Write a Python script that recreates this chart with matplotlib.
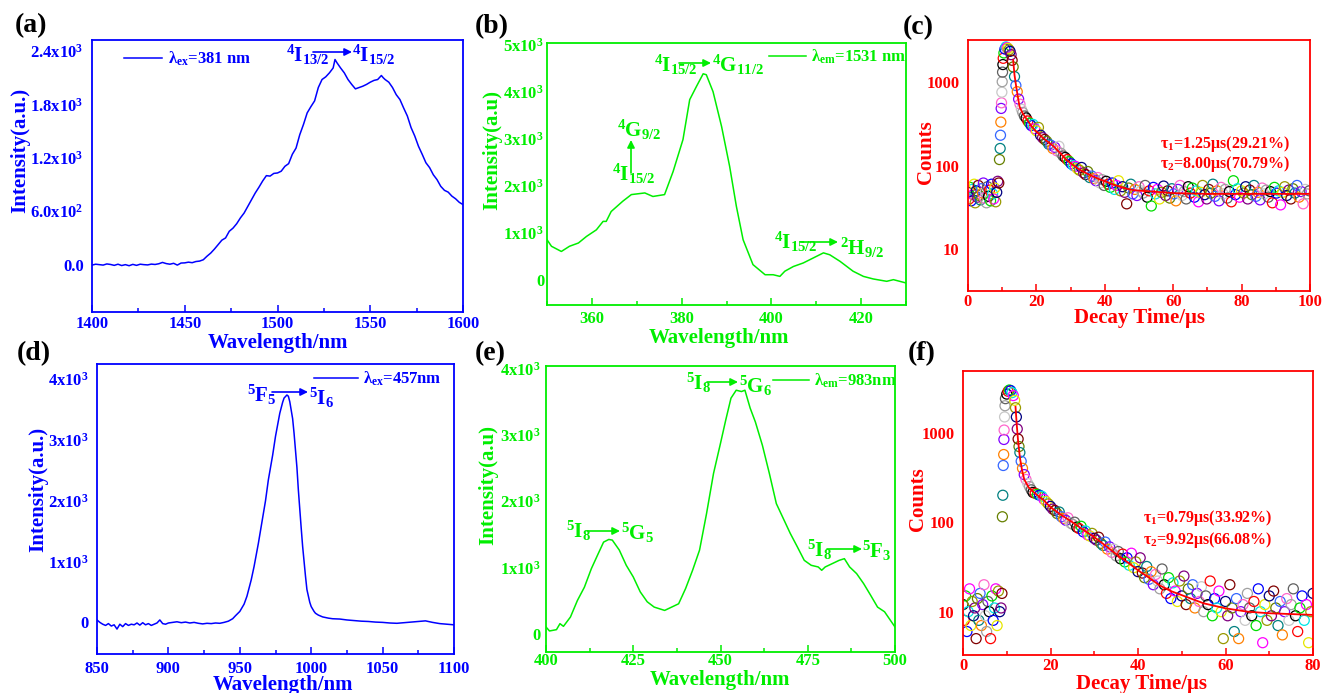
import matplotlib
matplotlib.use("Agg")
import matplotlib.pyplot as plt
from matplotlib.ticker import MultipleLocator, NullLocator
from matplotlib.patches import FancyArrowPatch

# ---------------- data ----------------
# (a) emission, lambda_ex = 381 nm
a_wl = [1400, 1402, 1404, 1406, 1408, 1410, 1412, 1414, 1416, 1418, 1420, 1422, 1424, 1426, 1428, 1430,
        1432, 1434, 1436, 1438, 1440, 1442, 1444, 1446, 1448, 1450, 1452, 1454, 1456, 1458, 1460, 1462,
        1464, 1466, 1468, 1470, 1472, 1474, 1476, 1478, 1480, 1482, 1484, 1486, 1488, 1490, 1492, 1494,
        1496, 1498, 1500, 1502, 1504, 1506, 1508, 1510, 1512, 1514, 1516, 1518, 1520, 1522, 1524, 1526,
        1528, 1530, 1531, 1532, 1534, 1536, 1538, 1540, 1542, 1544, 1546, 1548, 1550, 1552, 1554, 1556,
        1557, 1558, 1560, 1562, 1564, 1566, 1568, 1570, 1572, 1574, 1576, 1578, 1580, 1582, 1584, 1586,
        1588, 1590, 1592, 1594, 1596, 1598, 1600]
a_int = [-5, 5, 0, -5, 8, 2, -8, 5, -10, 0, -12, 3, -8, 5, 0, -3,
         6, 2, 10, 25, 12, 5, 15, -5, 18, 20, 28, 22, 35, 40, 55, 95,
         130, 175, 225, 275, 300, 375, 410, 460, 525, 580, 655, 730, 805, 870, 940, 1000,
         995, 1025, 1030, 1050, 1105, 1135, 1240, 1310, 1460, 1575, 1705, 1775, 1840, 1990, 2080, 2110,
         2155, 2210, 2305, 2270, 2210, 2155, 2080, 2025, 1975, 1990, 2005, 2025, 2050, 2070, 2080, 2125,
         2100, 2080, 2050, 1990, 1910, 1855, 1760, 1670, 1540, 1445, 1330, 1240, 1145, 1090, 1010, 955,
         880, 835, 815, 770, 740, 700, 675]

# (b) excitation, lambda_em = 1531 nm
b_wl = [350, 351, 353.2, 355, 357, 358.8, 361, 362.5, 363.2, 364.3, 366.9, 368.8, 371.8, 373.6, 376.2,
        378.1, 380.3, 381.8, 383.3, 384.8, 385.5, 387, 388.9, 390.7, 392.2, 393.7, 395.9, 398.6, 400.4,
        401.9, 403, 404.9, 407.1, 409.3, 411.6, 413, 415.3, 418.2, 420.5, 422.7, 425.7, 427.2, 430]
b_int = [850, 710, 600, 710, 780, 920, 1060, 1240, 1240, 1450, 1670, 1810, 1845, 1770, 1810,
         2300, 2980, 3830, 4110, 4380, 4360, 4000, 3260, 2410, 1560, 850, 320, 105, 105,
         70, 180, 280, 355, 460, 570, 530, 390, 180, 70, 15, -35, 0, -70]

# (c) decay curve, counts vs time (us)
c_time = [0.0, 0.3, 0.6, 0.9, 1.2, 1.5, 1.8, 2.1, 2.4, 2.7, 3.0, 3.3, 3.6, 3.9, 4.2, 4.5, 4.8, 5.1, 5.4, 5.7,
          6.0, 6.3, 6.6, 6.9, 7.2, 7.5, 7.8, 8.1, 8.4, 8.7,
          9.0, 9.2, 9.4, 9.5, 9.6, 9.7, 9.8, 9.9, 10.0, 10.1, 10.2, 10.3,
          10.5, 10.8, 11.1, 11.4, 11.7, 12.0, 12.3, 12.6, 12.9,
          13.2, 13.6, 14.0, 14.4, 14.8, 15.2, 15.6, 16.0, 16.5, 17.0, 17.5, 18.0, 18.5, 19.0, 19.5, 20.0,
          20.6, 21.2, 21.8, 22.4, 23.0, 23.6, 24.2, 24.8, 25.4, 26.0,
          26.6, 27.2, 27.8, 28.4, 29.0, 29.6, 30.2, 30.8, 31.4, 32.0,
          32.6, 33.2, 33.8, 34.4, 35.0, 35.6, 36.2, 36.8, 37.4, 38.0,
          38.6, 39.2, 39.8, 40.4, 41.0, 41.6, 42.2, 42.8, 43.4, 44.0,
          44.6, 45.2, 45.8, 46.4, 47.0, 47.6, 48.2, 48.8, 49.4, 50.0,
          50.6, 51.2, 51.8, 52.4, 53.0, 53.6, 54.2, 54.8, 55.4, 56.0,
          56.6, 57.2, 57.8, 58.4, 59.0, 59.6, 60.2, 60.8, 61.4, 62.0,
          62.6, 63.2, 63.8, 64.4, 65.0, 65.6, 66.2, 66.8, 67.4, 68.0,
          68.6, 69.2, 69.8, 70.4, 71.0, 71.6, 72.2, 72.8, 73.4, 74.0,
          74.6, 75.2, 75.8, 76.4, 77.0, 77.6, 78.2, 78.8, 79.4, 80.0,
          80.6, 81.2, 81.8, 82.4, 83.0, 83.6, 84.2, 84.8, 85.4, 86.0,
          86.6, 87.2, 87.8, 88.4, 89.0, 89.6, 90.2, 90.8, 91.4, 92.0,
          92.6, 93.2, 93.8, 94.4, 95.0, 95.6, 96.2, 96.8, 97.4, 98.0,
          98.6, 99.2, 99.8]
c_counts = [48, 40, 55, 38, 52, 45, 60, 36, 50, 42, 58, 44, 39, 53, 47, 62, 41, 49, 36, 56,
            43, 51, 38, 60, 46, 40, 54, 37, 48, 65,
            62, 118, 160, 230, 330, 480, 560, 750, 1000, 1300, 1600, 1900,
            2200, 2450, 2600, 2550, 2500, 2400, 2300, 2100, 1800,
            1500, 1150, 900, 760, 620, 540, 470, 430, 390, 370, 340, 320, 300, 310, 275, 260,
            285, 230, 215, 205, 195, 180, 175, 160, 165, 150,
            170, 140, 130, 125, 118, 112, 105, 100, 98, 92,
            88, 95, 82, 78, 85, 72, 75, 70, 66, 72,
            62, 68, 58, 65, 60, 55, 62, 52, 58, 66,
            50, 56, 48, 35, 54, 60, 46, 52, 44, 56,
            50, 47, 58, 42, 50, 33, 55, 46, 52, 40,
            48, 57, 44, 50, 41, 53, 46, 38, 52, 58,
            44, 49, 40, 56, 47, 54, 42, 50, 37, 48,
            58, 45, 40, 52, 47, 60, 43, 50, 38, 55,
            46, 52, 41, 49, 37, 66, 45, 53, 42, 50,
            47, 56, 40, 51, 45, 58, 43, 48, 39, 54,
            46, 51, 42, 49, 36, 55, 47, 50, 34, 48,
            56, 44, 51, 40, 53, 47, 58, 42, 49, 35,
            52, 46, 50]
c_fit_time = [13.2, 13.6, 14.1, 14.6, 15.1, 16, 17, 18, 19, 20.5, 22, 23.5, 25, 27, 28.8, 30.8, 32.7,
              34.6, 36.6, 38.5, 40.5, 42.5, 44.4, 46.4, 48.3, 51, 54, 57, 60, 65, 70, 80, 90, 100]
c_fit = [1810, 1200, 870, 650, 500, 420, 365, 318, 280, 243, 212, 190, 170, 140, 117, 101, 89,
         81, 74, 68.5, 64, 59.5, 56, 53, 51, 50, 49, 48, 47, 46.5, 46, 46, 46, 46]

# (d) emission, lambda_ex = 457 nm
d_wl = [850, 852, 854, 856, 858, 860, 862, 864, 866, 868, 870, 872, 874, 876, 878, 880, 882, 884, 886,
        888, 890, 892, 894, 896, 898, 900, 903, 906, 909, 912, 915, 918, 921, 924, 927, 930, 933, 936,
        939, 942, 945, 947, 950, 953, 955, 958, 960, 963, 965, 968, 970, 973, 975, 978, 980, 981, 983,
        984, 985, 987, 988, 990, 991, 993, 994, 996, 997, 999, 1000, 1002, 1003, 1005, 1008, 1012,
        1015, 1020, 1025, 1030, 1035, 1040, 1045, 1050, 1055, 1060, 1065, 1070, 1075, 1080, 1085,
        1090, 1095, 1100]
d_int = [40, 0, -30, -50, -20, -60, -40, -110, -30, -70, -20, -50, -30, -40, -10, -45, -5, -40, -20,
         -50, -30, -10, 40, -20, -30, -10, 0, 10, -5, 5, -10, 0, -15, -25, -15, -20, -10, -15,
         0, 20, 60, 110, 180, 300, 430, 700, 920, 1300, 1580, 2000, 2345, 2750, 3060, 3440, 3620, 3690, 3740,
         3720, 3630, 3350, 3110, 2550, 2180, 1550, 1250, 760, 540, 330, 260, 180, 150, 120, 90, 70,
         60, 55, 40, 30, 20, 15, 5, 0, -10, -15, -5, 5, 15, 25, 0,
         -20, -30, -40]

# (e) excitation, lambda_em = 983 nm
e_wl = [400, 401, 403, 404, 405, 407, 409, 411, 413, 415, 416.5, 418, 419, 421, 423, 425, 427, 429,
        431, 434, 436, 438, 440, 442, 444, 446, 448, 450, 451.5, 453, 454.5, 456, 457, 458.5, 460, 462,
        464, 466, 468, 470, 472, 474, 476, 478, 479, 480, 482, 484, 485.5, 487, 489, 491, 493, 495,
        497, 500]
e_int = [100, 40, 60, 150, 110, 250, 500, 700, 980, 1210, 1380, 1420, 1410, 1260, 1030, 855, 630, 480,
         400, 350, 400, 450, 680, 955, 1260, 1810, 2415, 2870, 3220, 3550, 3670, 3650, 3670, 3400, 3190, 2840,
         2415, 1960, 1735, 1510, 1310, 1105, 1030, 1005, 955, 1005, 1055, 1105, 1130, 1005, 905, 755, 580, 400,
         330, 100]

# (f) decay curve, counts vs time (us)
f_time = [0.0, 0.3, 0.6, 0.9, 1.2, 1.5, 1.8, 2.1, 2.4, 2.7, 3.0, 3.3, 3.6, 3.9, 4.2, 4.5, 4.8, 5.1, 5.4, 5.7,
          6.0, 6.3, 6.6, 6.9, 7.2, 7.5, 7.8, 8.1, 8.4,
          8.7, 8.9, 9.0, 9.1, 9.2, 9.3, 9.35, 9.4, 9.5, 9.6, 9.7,
          10.0, 10.3, 10.6, 10.9, 11.2, 11.5, 11.8,
          12.0, 12.2, 12.4, 12.6, 12.8, 13.0, 13.3, 13.6, 14.0, 14.4, 14.8, 15.2, 15.6, 16.0,
          16.5, 17.0, 17.5, 18.0, 18.5, 19.0, 19.5, 20.0, 20.5, 21.0,
          21.5, 22.0, 22.5, 23.0, 23.5, 24.0, 24.5, 25.0, 25.5, 26.0,
          26.5, 27.0, 27.5, 28.0, 28.5, 29.0, 29.5, 30.0, 30.5, 31.0,
          31.5, 32.0, 32.5, 33.0, 33.5, 34.0, 34.5, 35.0, 35.5, 36.0,
          36.5, 37.0, 37.5, 38.0, 38.5, 39.0, 39.5, 40.0, 40.5, 41.0,
          41.5, 42.0, 42.5, 43.0, 43.5, 44.0, 44.5, 45.0, 45.5, 46.0,
          46.5, 47.0, 47.5, 48.0, 48.5, 49.0, 49.5, 50.0, 50.5, 51.0,
          51.5, 52.0, 52.5, 53.0, 53.5, 54.0, 54.5, 55.0, 55.5, 56.0,
          56.5, 57.0, 57.5, 58.0, 58.5, 59.0, 59.5, 60.0, 60.5, 61.0,
          61.5, 62.0, 62.5, 63.0, 63.5, 64.0, 64.5, 65.0, 65.5, 66.0,
          66.5, 67.0, 67.5, 68.0, 68.5, 69.0, 69.5, 70.0, 70.5, 71.0,
          71.5, 72.0, 72.5, 73.0, 73.5, 74.0, 74.5, 75.0, 75.5, 76.0,
          76.5, 77.0, 77.5, 78.0, 78.5, 79.0, 79.5, 80.0]
f_counts = [12, 8, 15, 6, 10, 18, 7, 13, 9, 11, 5, 14, 8, 16, 7, 12, 20, 9, 6, 13,
            10, 5, 15, 8, 11, 18, 7, 17, 10,
            11, 16, 115, 200, 430, 570, 840, 1070, 1500, 2000, 2400,
            2700, 2900, 3000, 2950, 2800, 2600, 2300,
            1900, 1500, 1100, 850, 700, 600, 480, 400, 340, 300, 270, 250, 230, 215,
            210, 205, 200, 195, 180, 170, 160, 150, 140, 135,
            125, 130, 115, 110, 105, 112, 98, 95, 100, 88,
            85, 90, 78, 80, 72, 70, 75, 66, 63, 68,
            58, 55, 60, 50, 53, 46, 50, 42, 47, 39,
            44, 36, 40, 33, 45, 31, 36, 28, 40, 27,
            24, 32, 23, 28, 20, 26, 22, 18, 30, 20,
            16, 24, 14, 21, 17, 13, 22, 15, 25, 12,
            18, 14, 20, 11, 16, 13, 19, 10, 15, 12,
            22, 9, 14, 11, 17, 10, 5, 13, 9, 20,
            11, 6, 14, 5, 10, 12, 8, 16, 11, 9,
            13, 7, 18, 10, 4.5, 12, 8, 15, 9, 17,
            11, 7, 13, 5.5, 10, 14, 8, 12, 18, 9,
            6, 11, 15, 8, 12, 4.5, 10, 16]
f_fit_time = [12.0, 12.3, 12.6, 13.0, 13.5, 14, 15, 16, 17, 18.5, 20, 22.5, 25, 27.5, 30, 32.5, 35,
              37.5, 40, 42.5, 45, 47.5, 50, 55, 60, 65, 70, 75, 80]
f_fit = [1950, 1200, 800, 530, 380, 300, 245, 220, 200, 175, 147, 120, 100, 82, 68, 55, 44,
         36, 29, 24, 19.6, 17, 15.3, 12.4, 10.9, 10, 9.6, 9.4, 9.2]

# tick labels
a_yticks = [0, 600, 1200, 1800, 2400]
a_ylabels = ['0.0', r'6.0x10$^{2}$', r'1.2x10$^{3}$', r'1.8x10$^{3}$', r'2.4x10$^{3}$']
b_yticks = [0, 1000, 2000, 3000, 4000, 5000]
b_ylabels = ['0', r'1x10$^{3}$', r'2x10$^{3}$', r'3x10$^{3}$', r'4x10$^{3}$', r'5x10$^{3}$']
de_yticks = [0, 1000, 2000, 3000, 4000]
de_ylabels = ['0', r'1x10$^{3}$', r'2x10$^{3}$', r'3x10$^{3}$', r'4x10$^{3}$']
log_yticks = [10, 100, 1000]
log_ylabels = ['10', '100', '1000']

# ---------------- style ----------------
plt.rcParams['font.family'] = ['Liberation Serif', 'DejaVu Serif']
plt.rcParams['font.weight'] = 'bold'
plt.rcParams['axes.labelweight'] = 'bold'
plt.rcParams['mathtext.fontset'] = 'custom'
plt.rcParams['mathtext.rm'] = 'Liberation Serif:bold'
plt.rcParams['mathtext.it'] = 'Liberation Serif:bold'
plt.rcParams['mathtext.bf'] = 'Liberation Serif:bold'

W, H = 1323, 693
BLUE = '#0000ff'
GREEN = '#00ee00'
RED = '#ff0000'
POINT_COLORS = ['#000000', '#ff0000', '#00dd00', '#0000ff', '#00e5e5', '#ff00ff', '#e6e600',
                '#999900', '#000080', '#800080', '#800000', '#668000', '#008080', '#3366ff',
                '#ff8000', '#8000ff', '#ff66cc', '#c8c8c8', '#a0a0a0', '#606060']

fig = plt.figure(figsize=(W / 100, H / 100), dpi=100)


def rect(l, t, r, b):
    return [l / W, 1 - b / H, (r - l) / W, (b - t) / H]


def fp(x, y):
    return (x / W, 1 - y / H)


def setup(ax, color, xlim, ylim, xmajor, xminor, yticks, ylabels, xpad, ypad, log=False):
    if log:
        ax.set_yscale('log')
    ax.set_xlim(*xlim)
    ax.set_ylim(*ylim)
    ax.xaxis.set_major_locator(MultipleLocator(xmajor))
    ax.xaxis.set_minor_locator(MultipleLocator(xminor))
    ax.set_yticks(yticks)
    ax.set_yticklabels(ylabels)
    ax.yaxis.set_minor_locator(NullLocator())
    for s in ax.spines.values():
        s.set_color(color)
        s.set_linewidth(1.3)
    ax.tick_params(axis='x', which='both', direction='in', colors=color, labelsize=12,
                   pad=xpad, width=1.1, top=False)
    ax.tick_params(axis='x', which='major', length=5)
    ax.tick_params(axis='x', which='minor', length=3)
    ax.tick_params(axis='y', which='both', length=0, colors=color, labelsize=12,
                   pad=ypad, right=False)


def labels(ax, color, xl, xpos, yl, ypos):
    ax.set_xlabel(xl, fontsize=15, color=color, fontweight='bold')
    ax.xaxis.set_label_coords(*fp(*xpos), transform=fig.transFigure)
    ax.xaxis.label.set_va('center')
    ax.set_ylabel(yl, fontsize=15, color=color, fontweight='bold')
    ax.yaxis.set_label_coords(*fp(*ypos), transform=fig.transFigure)
    ax.yaxis.label.set_va('center')


def term(s, x, y, color, size=15):
    fig.text(x / W, 1 - y / H, s, color=color, fontsize=size, ha='left', va='baseline')


def arrow(x0, y0, x1, y1, color):
    fig.add_artist(FancyArrowPatch(fp(x0, y0), fp(x1, y1), transform=fig.transFigure,
                                   arrowstyle='-|>', mutation_scale=11, color=color, lw=1.2,
                                   shrinkA=0, shrinkB=0))


def legend(ax, color, x, y, hl, pad):
    ax.legend(loc='center left', bbox_to_anchor=fp(x, y), bbox_transform=fig.transFigure,
              frameon=False, fontsize=12, handlelength=hl, handletextpad=pad,
              borderpad=0, borderaxespad=0, labelcolor=color)


def panel(s, x, y):
    fig.text(x / W, 1 - y / H, s, fontsize=20, fontweight='bold', ha='left', va='center',
             color='black')


def decay(ax, t, n, ft, fn):
    ax.scatter(t, n, s=52, facecolors='none',
               edgecolors=[POINT_COLORS[i % len(POINT_COLORS)] for i in range(len(t))],
               linewidths=0.9, zorder=2)
    ax.plot(ft, fn, color=RED, lw=1.3, zorder=3)


# ---------------- (a) ----------------
ax = fig.add_axes(rect(92, 40, 463, 312))
ax.plot(a_wl, a_int, color=BLUE, lw=1.1, label=r'λ$_{\mathrm{ex}}$=381 nm')
setup(ax, BLUE, (1400, 1600), (-532, 2524), 50, 25, a_yticks, a_ylabels, 3, 6)
labels(ax, BLUE, 'Wavelength/nm', (278, 343), 'Intensity(a.u.)', (20, 150))
legend(ax, BLUE, 124, 59, 2.28, 0.36)
term(r'$^{4}\mathrm{I}_{13/2}$', 286, 62, BLUE)
arrow(313, 52, 352, 52, BLUE)
term(r'$^{4}\mathrm{I}_{15/2}$', 352, 62, BLUE)
panel('(a)', 15, 26)

# ---------------- (b) ----------------
ax = fig.add_axes(rect(547, 43, 906, 305))
ax.plot(b_wl, b_int, color=GREEN, lw=1.1, label=r'λ$_{\mathrm{em}}$=1531 nm')
setup(ax, GREEN, (350, 430), (-539, 5035), 20, 10, b_yticks, b_ylabels, 4, 2)
labels(ax, GREEN, 'Wavelength/nm', (719, 338), 'Intensity(a.u)', (492, 150))
legend(ax, GREEN, 769, 57, 2.22, 0.3)
term(r'$^{4}\mathrm{I}_{15/2}$', 654, 72, GREEN)
arrow(679, 63, 711, 63, GREEN)
term(r'$^{4}\mathrm{G}_{11/2}$', 712, 72, GREEN)
term(r'$^{4}\mathrm{G}_{9/2}$', 617, 137, GREEN)
term(r'$^{4}\mathrm{I}_{15/2}$', 612, 181, GREEN)
arrow(631, 173, 631, 140, GREEN)
term(r'$^{4}\mathrm{I}_{15/2}$', 774, 249, GREEN)
arrow(802, 242, 838, 242, GREEN)
term(r'$^{2}\mathrm{H}_{9/2}$', 840, 255, GREEN)
panel('(b)', 475, 27)

# ---------------- (c) ----------------
ax = fig.add_axes(rect(968, 40, 1310, 291))
decay(ax, c_time, c_counts, c_fit_time, c_fit)
setup(ax, RED, (0, 100), (3.2, 3140), 20, 10, log_yticks, log_ylabels, 2, 6, log=True)
labels(ax, RED, 'Decay Time/μs', (1140, 318), 'Counts', (926, 152))
term('τ$_{1}$=1.25μs(29.21%)', 1160, 148, RED, size=11.5)
term('τ$_{2}$=8.00μs(70.79%)', 1160, 168, RED, size=11.5)
panel('(c)', 903, 28)

# ---------------- (d) ----------------
ax = fig.add_axes(rect(97, 364, 454, 654))
ax.plot(d_wl, d_int, color=BLUE, lw=1.1, label=r'λ$_{\mathrm{ex}}$=457nm')
setup(ax, BLUE, (850, 1100), (-520, 4250), 50, 25, de_yticks, de_ylabels, 5, 6)
labels(ax, BLUE, 'Wavelength/nm', (283, 685), 'Intensity(a.u.)', (38, 489))
legend(ax, BLUE, 314, 379, 2.64, 0.3)
term(r'$^{5}\mathrm{F}_{5}$', 247, 402, BLUE)
arrow(272, 392, 308, 392, BLUE)
term(r'$^{5}\mathrm{I}_{6}$', 309, 405, BLUE)
panel('(d)', 17, 354)

# ---------------- (e) ----------------
ax = fig.add_axes(rect(546, 366, 895, 652))
ax.plot(e_wl, e_int, color=GREEN, lw=1.1, label=r'λ$_{\mathrm{em}}$=983nm')
setup(ax, GREEN, (400, 500), (-277, 4035), 25, 12.5, de_yticks, de_ylabels, 1, 4)
labels(ax, GREEN, 'Wavelength/nm', (720, 680), 'Intensity(a.u)', (488, 485))
legend(ax, GREEN, 773, 381, 2.16, 0.3)
term(r'$^{5}\mathrm{I}_{8}$', 686, 390, GREEN)
arrow(707, 382, 738, 382, GREEN)
term(r'$^{5}\mathrm{G}_{6}$', 739, 393, GREEN)
term(r'$^{5}\mathrm{I}_{8}$', 566, 538, GREEN)
arrow(587, 531, 620, 531, GREEN)
term(r'$^{5}\mathrm{G}_{5}$', 621, 540, GREEN)
term(r'$^{5}\mathrm{I}_{8}$', 807, 557, GREEN)
arrow(827, 549, 862, 549, GREEN)
term(r'$^{5}\mathrm{F}_{3}$', 862, 558, GREEN)
panel('(e)', 475, 354)

# ---------------- (f) ----------------
ax = fig.add_axes(rect(963, 371, 1313, 655))
decay(ax, f_time, f_counts, f_fit_time, f_fit)
setup(ax, RED, (0, 80), (3.28, 4890), 20, 10, log_yticks, log_ylabels, 2, 6, log=True)
labels(ax, RED, 'Decay Time/μs', (1142, 684), 'Counts', (918, 499))
term('τ$_{1}$=0.79μs(33.92%)', 1143, 522, RED, size=11.5)
term('τ$_{2}$=9.92μs(66.08%)', 1143, 544, RED, size=11.5)
panel('(f)', 908, 354)

fig.savefig('out.png', dpi=100)
